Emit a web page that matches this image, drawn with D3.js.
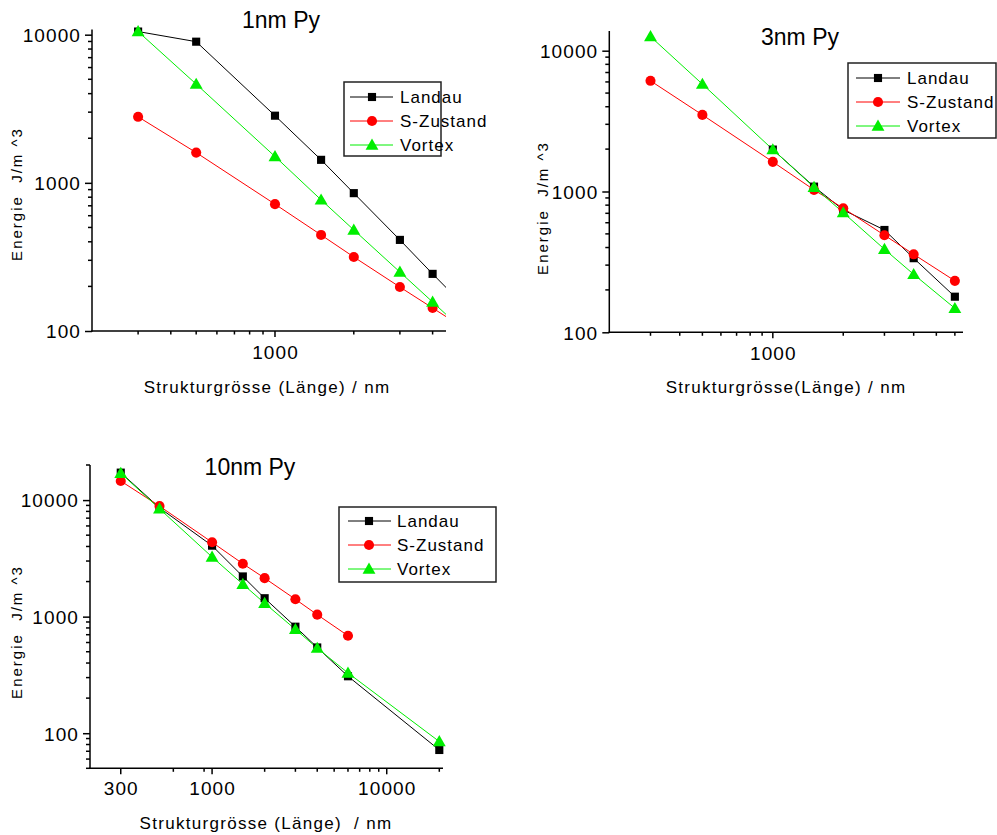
<!DOCTYPE html>
<html>
<head>
<meta charset="utf-8">
<script src="https://cdn.jsdelivr.net/npm/d3@7"></script>
<style>
  html, body { margin: 0; padding: 0; background: #fff; }
  svg { display: block; }
  text { font-family: "Liberation Sans", Arial, sans-serif; fill: #000; white-space: pre; }
</style>
</head>
<body>
<svg id="chart" width="997" height="835"></svg>
<script>
// ---------------- DATA ----------------
const seriesNames = ["Landau", "S-Zustand", "Vortex"];

// Panel 1: 1nm Py
const titles = ["1nm Py", "3nm Py", "10nm Py"];
const size1 = [300, 500, 1000, 1500, 2000, 3000, 4000, 5000];
const landau1 = [10500, 8970, 2840, 1430, 852, 412, 243, 163];
const szust1  = [2790, 1600, 718, 445, 316, 198, 143, 111];
const vortex1 = [10500, 4640, 1506, 768, 481, 250, 157, 109];

// Panel 2: 3nm Py
const size2 = [300, 500, 1000, 1500, 2000, 3000, 4000, 6000];
const landau2 = [null, null, 1985, 1083, 740, 533, 336, 179];
const szust2  = [6110, 3500, 1624, 1027, 761, 489, 358, 232];
const vortex2 = [12600, 5790, 1985, 1073, 708, 389, 258, 148];

// Panel 3: 10nm Py
const size3 = [300, 500, 1000, 1500, 2000, 3000, 4000, 6000, 20000];
const landau3 = [17200, 8590, 4065, 2213, 1439, 820, 544, 308, 71.8];
const szust3  = [14580, 8880, 4345, 2845, 2140, 1410, 1040, 686, null];
const vortex3 = [17000, 8420, 3250, 1900, 1303, 778, 537, 329, 84.8];

// Tick labels
const xTickLabels1 = [1000];
const xTickLabels2 = [1000];
const xTickLabels3 = [300, 1000, 10000];
const xMinorTicks3 = [600, 900, 2000, 3000, 4000, 5000, 6000, 7000, 8000, 9000, 20000];
const yTickLabels = [100, 1000, 10000];

const xAxisTitles = ["Strukturgrösse (Länge) / nm", "Strukturgrösse(Länge) / nm", "Strukturgrösse (Länge)  / nm"];
const yAxisTitle = "Energie  J/m ^3";

// ---------------- STYLE / LAYOUT ----------------
const colors = ["#000000", "#ff0000", "#00ee00"];
const markerTypes = [d3.symbolSquare, d3.symbolCircle, d3.symbolTriangle];
const markerSizes = [66, 80, 72];

const svg = d3.select("#chart");

const panels = [
  {
    title: titles[0], titlePos: [281, 28],
    xRange: [92, 446], xDom: [200, 4500],
    yRange: [331, 29.5], yDom: [100, 10840],
    sizes: size1, series: [landau1, szust1, vortex1],
    xLabels: xTickLabels1, xMinor: null,
    xTitle: xAxisTitles[0], xTitlePos: [267, 393], xTickBase: 359,
    yTitlePos: [22, 194],
    legend: { x: 344, y: 82, w: 97, h: 74, rows: [97, 121, 145], l0: 350, l1: 393, m: 372, tx: 400 }
  },
  {
    title: titles[1], titlePos: [800, 45],
    xRange: [609.3, 963], xDom: [200, 6500],
    yRange: [332.3, 31], yDom: [100, 13800],
    sizes: size2, series: [landau2, szust2, vortex2],
    xLabels: xTickLabels2, xMinor: null,
    xTitle: xAxisTitles[1], xTitlePos: [786, 393], xTickBase: 360,
    yTitlePos: [548, 208],
    legend: { x: 848, y: 63, w: 148, h: 75, rows: [78, 102, 126], l0: 856, l1: 900, m: 878, tx: 907 }
  },
  {
    title: titles[2], titlePos: [250, 475],
    xRange: [90, 443], xDom: [200, 21000],
    yRange: [768.3, 465], yDom: [50, 20000],
    sizes: size3, series: [landau3, szust3, vortex3],
    xLabels: xTickLabels3, xMinor: xMinorTicks3,
    xTitle: xAxisTitles[2], xTitlePos: [266, 829], xTickBase: 795,
    yTitlePos: [22, 632],
    legend: { x: 339, y: 507, w: 157, h: 75, rows: [521, 545, 569], l0: 348, l1: 391, m: 369, tx: 397 }
  }
];

panels.forEach((p, pi) => {
  const x = d3.scaleLog().domain(p.xDom).range(p.xRange);
  const y = d3.scaleLog().domain(p.yDom).range(p.yRange);
  const g = svg.append("g");

  // clip
  const clipId = "clip" + pi;
  svg.append("clipPath").attr("id", clipId).append("rect")
    .attr("x", p.xRange[0]).attr("y", p.yRange[1])
    .attr("width", p.xRange[1] - p.xRange[0]).attr("height", p.yRange[0] - p.yRange[1]);

  // Y axis
  const yMinor = y.ticks().filter(v => !yTickLabels.includes(v));
  const yAxisMajor = d3.axisLeft(y).tickValues(yTickLabels.filter(v => v >= p.yDom[0] && v <= p.yDom[1]))
    .tickSize(7).tickSizeOuter(0).tickFormat(d3.format("d")).tickPadding(4);
  const ya = g.append("g").attr("transform", `translate(${p.xRange[0]},0)`).call(yAxisMajor);
  ya.select(".domain").remove();
  ya.selectAll("text").attr("font-size", 19).style("letter-spacing", "1.1px")
    .attr("font-family", '"Liberation Sans", Arial, sans-serif').attr("dy", "0.36em");
  ya.selectAll("line").attr("stroke-width", 1.5);
  g.append("g").selectAll("line").data(yMinor).join("line")
    .attr("x1", p.xRange[0] - 4).attr("x2", p.xRange[0])
    .attr("y1", d => y(d)).attr("y2", d => y(d))
    .attr("stroke", "#000").attr("stroke-width", 1.5);
  g.append("line").attr("x1", p.xRange[0]).attr("x2", p.xRange[0])
    .attr("y1", p.yRange[0] + 0.75).attr("y2", p.yRange[1])
    .attr("stroke", "#000").attr("stroke-width", 1.5);

  // X axis
  const xMinor = p.xMinor ? p.xMinor : x.ticks().filter(v => !p.xLabels.includes(v) && v > p.xDom[0]);
  g.append("g").selectAll("line").data(xMinor).join("line")
    .attr("x1", d => x(d)).attr("x2", d => x(d))
    .attr("y1", p.yRange[0]).attr("y2", p.yRange[0] + 3.5)
    .attr("stroke", "#000").attr("stroke-width", 1.5);
  g.append("g").selectAll("line").data(p.xLabels).join("line")
    .attr("x1", d => x(d)).attr("x2", d => x(d))
    .attr("y1", p.yRange[0]).attr("y2", p.yRange[0] + 6)
    .attr("stroke", "#000").attr("stroke-width", 1.5);
  g.append("g").selectAll("text").data(p.xLabels).join("text")
    .attr("x", d => x(d) + 0.5).attr("y", p.xTickBase)
    .attr("text-anchor", "middle").attr("font-size", 19).style("letter-spacing", "1.1px")
    .text(d => d3.format("d")(d));
  g.append("line").attr("x1", p.xRange[0] - 0.75).attr("x2", p.xRange[1])
    .attr("y1", p.yRange[0]).attr("y2", p.yRange[0])
    .attr("stroke", "#000").attr("stroke-width", 1.5);

  // Titles
  g.append("text").attr("x", p.titlePos[0]).attr("y", p.titlePos[1])
    .attr("text-anchor", "middle").attr("font-size", 23).text(p.title);
  g.append("text").attr("x", p.xTitlePos[0]).attr("y", p.xTitlePos[1])
    .attr("text-anchor", "middle").attr("font-size", 17).style("letter-spacing", "1.3px").text(p.xTitle);
  g.append("text").attr("transform", `translate(${p.yTitlePos[0]},${p.yTitlePos[1]}) rotate(-90)`)
    .attr("text-anchor", "middle").attr("font-size", 15).style("letter-spacing", "2px").text(yAxisTitle);

  // Series
  p.series.forEach((vals, si) => {
    const pts = p.sizes.map((s, i) => ({ s, v: vals[i] })).filter(d => d.v != null);
    const line = d3.line().x(d => x(d.s)).y(d => y(d.v));
    g.append("path").datum(pts).attr("d", line)
      .attr("fill", "none").attr("stroke", colors[si]).attr("stroke-width", 1)
      .attr("clip-path", `url(#${clipId})`);
  });
  p.series.forEach((vals, si) => {
    const pts = p.sizes.map((s, i) => ({ s, v: vals[i] }))
      .filter(d => d.v != null && d.s <= p.xDom[1] && d.v >= p.yDom[0] && d.v <= p.yDom[1]);
    const sym = d3.symbol().type(markerTypes[si]).size(markerSizes[si]);
    g.append("g").selectAll("path").data(pts).join("path")
      .attr("d", sym)
      .attr("transform", d => `translate(${x(d.s)},${y(d.v) + (si === 2 ? 1 : 0)})`)
      .attr("fill", colors[si]);
  });

  // Legend
  const L = p.legend;
  const lg = g.append("g");
  lg.append("rect").attr("x", L.x).attr("y", L.y).attr("width", L.w).attr("height", L.h)
    .attr("fill", "#fff").attr("stroke", "#222").attr("stroke-width", 1.5);
  seriesNames.forEach((name, si) => {
    const ry = L.rows[si];
    lg.append("line").attr("x1", L.l0).attr("x2", L.l1).attr("y1", ry).attr("y2", ry)
      .attr("stroke", colors[si]).attr("stroke-width", 1);
    lg.append("path").attr("d", d3.symbol().type(markerTypes[si]).size(markerSizes[si])())
      .attr("transform", `translate(${L.m},${ry + (si === 2 ? 1 : 0)})`).attr("fill", colors[si]);
    lg.append("text").attr("x", L.tx).attr("y", ry).attr("dy", "0.36em")
      .attr("font-size", 17).style("letter-spacing", "1px").text(name);
  });
});
</script>
</body>
</html>
